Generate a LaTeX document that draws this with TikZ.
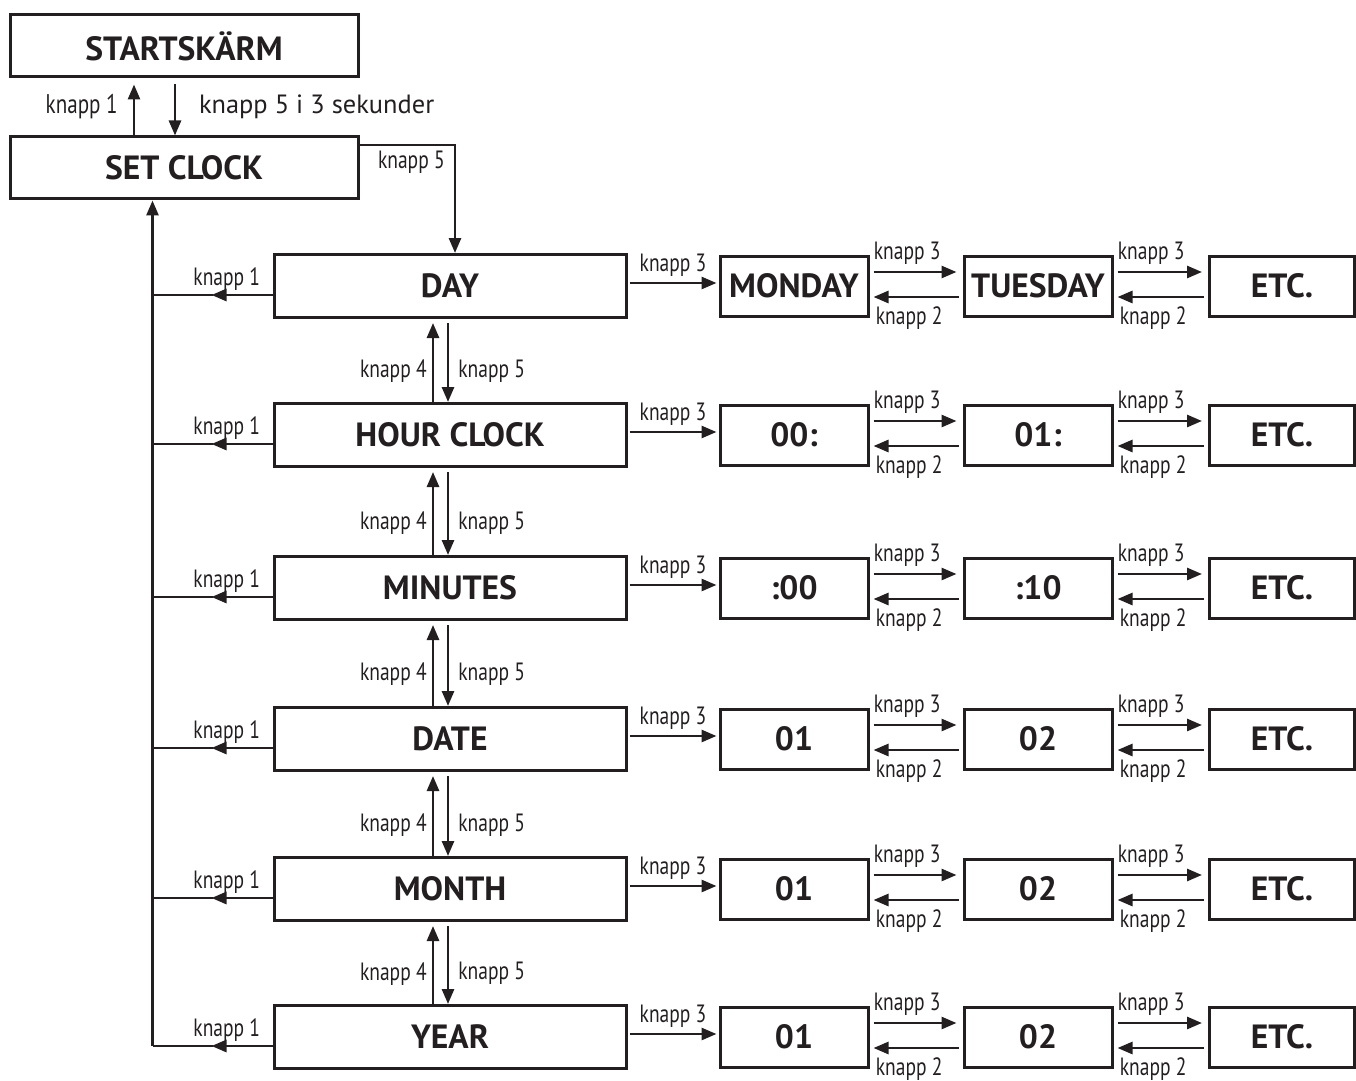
\documentclass[tikz,border=0pt]{standalone}
\usepackage{fontspec}
\setmainfont{PT Sans}
\newfontfamily\narrowfont[FakeStretch=0.78]{PT Sans}
\usetikzlibrary{calc, arrows.meta}
\definecolor{ink}{HTML}{231F20}

\tikzset{
  box/.style={draw=ink, line width=1.5pt, inner sep=2pt, text=ink,
    font=\fontsize{16.8}{19}\selectfont\bfseries},
  topbox/.style={box, minimum width=174pt, minimum height=31pt},
  mainbox/.style={box, minimum width=176pt, minimum height=31.5pt},
  valbox/.style={box, minimum width=74pt, minimum height=30pt},
  lab/.style={text=ink, inner sep=1.5pt, font=\narrowfont\fontsize{12.5}{14}\selectfont},
  link/.style={draw=ink, line width=1.35pt, -{Triangle[length=7.5pt,width=6pt]}},
}

\begin{document}
\begin{tikzpicture}[x=0.5pt, y=-0.5pt]
  \useasboundingbox (0,0) rectangle (1356,1081);
  \node[topbox] (start) at (184,46) {STARTSKÄRM};
  \node[topbox] (set) at (184,168) {SET CLOCK};
  % start <-> set clock
  \draw[link, shorten >=3pt] ([xshift=-25pt]set.north) -- node[lab, left, pos=0.5, xshift=-6pt, font=\narrowfont\fontsize{13.5}{15}\selectfont] {knapp 1} ([xshift=-25pt]set.north |- start.south);
  \draw[link, shorten <=3pt] ([xshift=-4.5pt]set.north |- start.south) -- node[right, pos=0.5, xshift=8pt, text=ink, font=\fontsize{13.2}{15}\selectfont] {knapp 5 i 3 sekunder} ([xshift=-4.5pt]set.north);
  % rows
  \foreach \n/\y/\t/\a/\b in {day/286/DAY/MONDAY/TUESDAY, hour/435/HOUR CLOCK/00:/01:,
      mins/588/MINUTES/:00/:10, date/739/DATE/01/02, month/889/MONTH/01/02, year/1037/YEAR/01/02} {
    \node[mainbox] (\n) at (450,\y) {\t};
    \node[valbox] (\n1) at (794,\y) {\a};
    \node[valbox] (\n2) at (1038,\y) {\b};
    \node[valbox, minimum width=72.5pt] (\n3) at (1282,\y) {ETC.};
    % to the values
    \draw[link, shorten <=1pt, shorten >=1pt] ([yshift=1.5pt]\n.east) -- node[lab, above, yshift=1pt] {knapp 3} ([yshift=1.5pt]\n1.west);
    \draw[link, shorten <=2pt, shorten >=3pt] ([yshift=7pt]\n1.east) -- node[lab, pos=0, above right, yshift=1.5pt] {knapp 3} ([yshift=7pt]\n2.west);
    \draw[link, shorten <=2pt, shorten >=2pt] ([yshift=-5.5pt]\n2.west) -- node[lab, pos=1, below right, xshift=1pt, yshift=-2.5pt] {knapp 2} ([yshift=-5.5pt]\n1.east);
    \draw[link, shorten <=2pt, shorten >=3pt] ([yshift=7pt]\n2.east) -- node[lab, pos=0, above right, yshift=1.5pt] {knapp 3} ([yshift=7pt]\n3.west);
    \draw[link, shorten <=2pt, shorten >=2pt] ([yshift=-5.5pt]\n3.west) -- node[lab, pos=1, below right, xshift=1pt, yshift=-2.5pt] {knapp 2} ([yshift=-5.5pt]\n2.east);
    % back to set clock
    \draw[link] ([yshift=-4.5pt]\n.west) -- node[lab, above, pos=0.75] {knapp 1} ([yshift=-4.5pt, xshift=-30.5pt]\n.west);
    \draw[draw=ink, line width=1.35pt] ([yshift=-4.5pt, xshift=-30pt]\n.west) -- ([yshift=-4.5pt, xshift=-60pt]\n.west);
  }
  % up and down between rows
  \foreach \u/\l in {day/hour, hour/mins, mins/date, date/month, month/year} {
    \draw[link, shorten >=2pt] ([xshift=-8.5pt]\l.north) -- node[lab, left, pos=0.37, xshift=-1pt] {knapp 4} ([xshift=-8.5pt]\u.south);
    \draw[link, shorten <=2pt] ([xshift=-1pt]\u.south) -- node[lab, right, pos=0.63, xshift=3pt] {knapp 5} ([xshift=-1pt]\l.north);
  }
  % set clock -> day
  \draw[link] ([yshift=11.5pt]set.east) -| node[lab, below left, pos=0.5, xshift=-3pt, yshift=-1pt] {knapp 5} ([xshift=2.5pt]day.north);
  % common return line
  \coordinate (bus) at ([yshift=-4.5pt, xshift=-60pt]year.west);
  \draw[link] (bus) -- (bus |- set.south);
\end{tikzpicture}
\end{document}
